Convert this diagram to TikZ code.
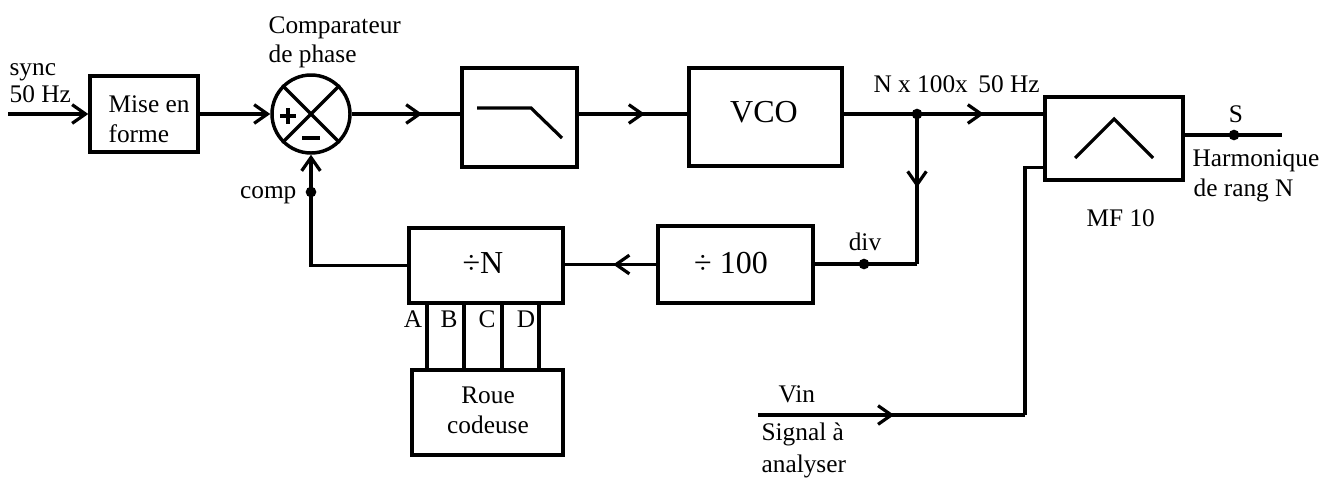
\documentclass[tikz,border=0pt]{standalone}
\usepackage{fontspec}
\setmainfont{Liberation Serif}
\usetikzlibrary{arrows.meta,decorations.markings,calc}
\tikzset{
  blk/.style={draw,line width=2.6pt,inner sep=0pt,rectangle},
  tip/.style={-{Straight Barb[length=10pt,width=14pt,line width=2.4pt]}},
  midarr/.style={postaction={decorate},decoration={markings,
     mark=at position #1 with {\arrow{Straight Barb[length=10pt,width=14pt,line width=2.4pt]}}}},
  dot/.style={circle,fill,inner sep=0pt,minimum size=8pt},
  lbl/.style={inner sep=0pt,font=\fontsize{19}{22}\selectfont},
  big/.style={inner sep=0pt,font=\fontsize{24}{28}\selectfont},
}
\begin{document}
\begin{tikzpicture}[x=0.75pt,y=-0.75pt,line width=2.4pt]
\useasboundingbox (0,0) rectangle (1333,479);
% blocks
\node[blk,minimum width=81pt,minimum height=57pt] (mise) at (144,114) {};
\node[circle,draw,line width=2.6pt,minimum size=58.5pt,inner sep=0pt] (circ) at (311,114) {};
\node[blk,minimum width=86.25pt,minimum height=74.25pt] (filt) at (519.5,117.5) {};
\node[blk,minimum width=114.75pt,minimum height=73.5pt] (vco) at (765.5,117) {};
\node[blk,minimum width=103.5pt,minimum height=62.25pt] (mf) at (1114,138.5) {};
\node[blk,minimum width=116.25pt,minimum height=57.75pt] (d100) at (735.5,264.5) {};
\node[blk,minimum width=115.5pt,minimum height=56.25pt] (dN) at (486,265.5) {};
\node[blk,minimum width=113.25pt,minimum height=63.75pt] (roue) at (487.5,412.5) {};
% comparator inner marks
\draw (circ.north west) -- (circ.south east);
\draw (circ.north east) -- (circ.south west);
\draw[line width=3pt] (280,116) -- (296,116) (288,108) -- (288,124);
\draw[line width=3pt] (302,138) -- (320,138);
% filter symbols
\draw (477,108) -- (531,108) -- (562,138);
\draw (1075,158) -- (1114,119) -- (1153,158);
% coordinates
\coordinate (sin) at (8,114);
\coordinate (jn) at (917,114);
\coordinate (jc) at (917,264);
\coordinate (oend) at (1282,135);
\coordinate (vs) at (758,415);
\coordinate (vc) at (1025,415);
\coordinate (mfin) at ($(mf.south west)+(0,-14)$);
\coordinate (xA) at (427,0);
\coordinate (xB) at (464,0);
\coordinate (xC) at (502,0);
\coordinate (xD) at (539,0);
% connectors
\draw[tip] (sin) -- (sin -| mise.west);
\draw[tip] (mise.east |- circ) -- (circ.west);
\draw[midarr=0.65] (circ.east) -- (circ.east -| filt.west);
\draw[midarr=0.61] (filt.east |- circ) -- (circ -| vco.west);
\draw (vco.east |- jn) -- (jn);
\draw[midarr=0.53] (jn) -- (jn -| mf.west);
\draw[midarr=0.49] (jn) -- (jc);
\draw (jc) -- (jc -| d100.east);
\draw[midarr=0.47] (d100.west) -- (d100.west -| dN.east);
\draw[tip] (dN.west) -| (circ.south);
\draw[midarr=0.51] (vs) -- (vc);
\draw (vc) |- (mfin);
\draw (mf.east |- oend) -- (oend);
\foreach \c in {xA,xB,xC,xD} \draw (\c |- dN.south) -- (\c |- roue.north);
% dots
\node[dot] (djn) at (jn) {};
\node[dot] (ddiv) at (864,264) {};
\node[dot] (dcomp) at (311,192) {};
\node[dot] (ds) at (1234,135) {};
% texts
\node[lbl,anchor=base west] (t1) at (8,75) {sync};
\node[lbl,anchor=base west] (t2) at (8,102) {50 Hz};
\node[lbl,anchor=base west] (t3) at (267,33) {Comparateur};
\node[lbl,anchor=base west] (t4) at (267,62) {de phase};
\node[lbl,anchor=base west] (t5) at (107,112) {Mise en};
\node[lbl,anchor=base west] (t6) at (107,142) {forme};
\node[big,anchor=base] (t7) at (764,122) {VCO};
\node[lbl,anchor=base west] (t8) at (872,92) {N x 100x\, 50 Hz};
\node[lbl,anchor=base] (t9) at (1236,122) {S};
\node[lbl,anchor=base west] (t10) at (1191,166) {Harmonique};
\node[lbl,anchor=base west] (t11) at (1192,196) {de rang N};
\node[lbl,anchor=base west] (t12) at (1085,226) {MF 10};
\node[lbl,anchor=base east] (t13) at (298,198) {comp};
\node[lbl,anchor=base] (t14) at (865,250) {div};
\node[big,anchor=base] (t15) at (483,273) {÷N};
\node[big,anchor=base] (t16) at (731,273) {÷ 100};
\node[lbl,anchor=base] (tA) at (413,327) {A};
\node[lbl,anchor=base] (tB) at (449,327) {B};
\node[lbl,anchor=base] (tC) at (487,327) {C};
\node[lbl,anchor=base] (tD) at (526,327) {D};
\node[lbl,anchor=base] (t17) at (488,403) {Roue};
\node[lbl,anchor=base] (t18) at (488,433) {codeuse};
\node[lbl,anchor=base west] (t19) at (777,402) {Vin};
\node[lbl,anchor=base west] (t20) at (760,440) {Signal à};
\node[lbl,anchor=base west] (t21) at (760,472) {analyser};
\end{tikzpicture}
\end{document}
